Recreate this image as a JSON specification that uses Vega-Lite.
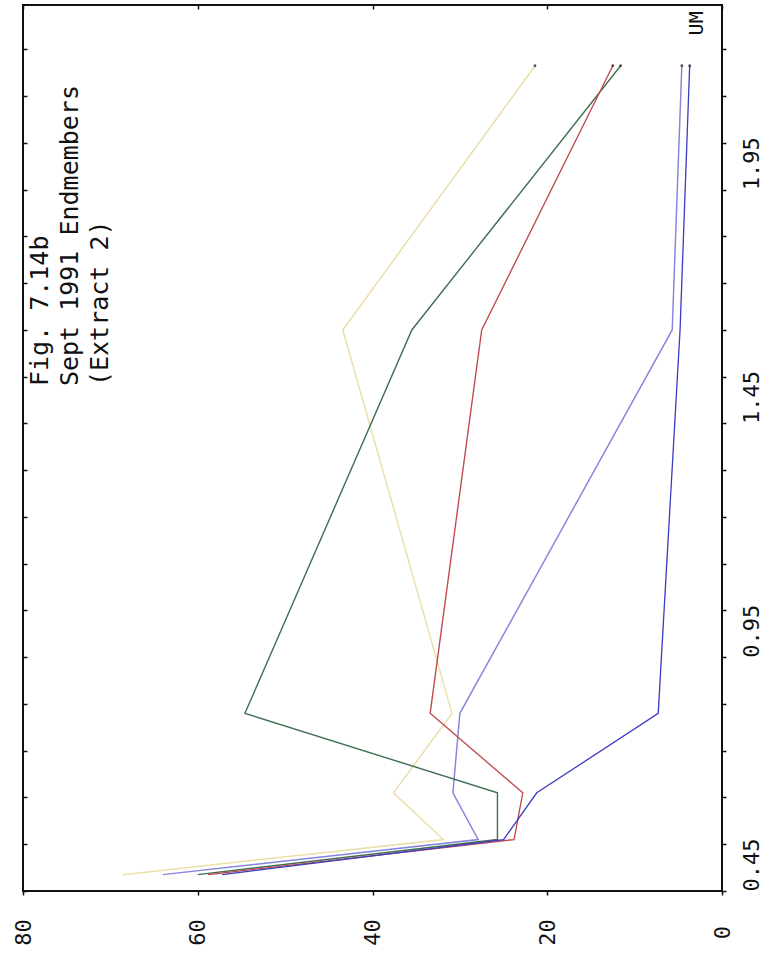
{
  "$schema": "https://vega.github.io/schema/vega-lite/v6.json",
  "autosize": {"type": "none"},
  "padding": {"left": 23, "top": 5, "right": 48, "bottom": 62},
  "width": 699,
  "height": 886,
  "background": "white",
  "config": {
    "view": {"stroke": "#111", "strokeWidth": 2},
    "font": "DejaVu Sans Mono",
    "axis": {"grid": false, "domain": false, "tickColor": "#111", "tickWidth": 1.5, "tickSize": 4, "labelFont": "DejaVu Sans Mono", "labelFontSize": 22, "labelColor": "#111"}
  },
  "data": {"values": [
    {"band": 0.485, "series": "yellow", "value": 68.6},
    {"band": 0.56, "series": "yellow", "value": 31.9},
    {"band": 0.66, "series": "yellow", "value": 37.6},
    {"band": 0.83, "series": "yellow", "value": 30.9},
    {"band": 1.65, "series": "yellow", "value": 43.4},
    {"band": 2.215, "series": "yellow", "value": 21.4},
    {"band": 0.485, "series": "purple", "value": 64.0},
    {"band": 0.56, "series": "purple", "value": 27.9},
    {"band": 0.66, "series": "purple", "value": 30.8},
    {"band": 0.83, "series": "purple", "value": 30.0},
    {"band": 1.65, "series": "purple", "value": 5.7},
    {"band": 2.215, "series": "purple", "value": 4.6},
    {"band": 0.485, "series": "green", "value": 60.0},
    {"band": 0.56, "series": "green", "value": 25.7},
    {"band": 0.66, "series": "green", "value": 25.7},
    {"band": 0.83, "series": "green", "value": 54.6},
    {"band": 1.65, "series": "green", "value": 35.5},
    {"band": 2.215, "series": "green", "value": 11.6},
    {"band": 0.485, "series": "red", "value": 58.8},
    {"band": 0.56, "series": "red", "value": 23.8},
    {"band": 0.66, "series": "red", "value": 22.8},
    {"band": 0.83, "series": "red", "value": 33.4},
    {"band": 1.65, "series": "red", "value": 27.5},
    {"band": 2.215, "series": "red", "value": 12.5},
    {"band": 0.485, "series": "blue", "value": 57.2},
    {"band": 0.56, "series": "blue", "value": 25.0},
    {"band": 0.66, "series": "blue", "value": 21.2},
    {"band": 0.83, "series": "blue", "value": 7.3},
    {"band": 1.65, "series": "blue", "value": 4.8},
    {"band": 2.215, "series": "blue", "value": 3.7}
  ]},
  "resolve": {"axis": {"x": "independent", "y": "independent"}},
  "layer": [
    {
      "mark": {"type": "line", "clip": true},
      "encoding": {
        "x": {"field": "value", "type": "quantitative", "scale": {"domain": [0, 80], "reverse": true, "nice": false, "zero": false},
              "axis": {"orient": "bottom", "values": [0, 20, 40, 60, 80], "title": null, "labelAngle": -90, "labelAlign": "center", "labelBaseline": "middle", "labelPadding": 37}},
        "y": {"field": "band", "type": "quantitative", "scale": {"domain": [0.45, 2.345], "nice": false, "zero": false},
              "axis": {"orient": "right", "values": [0.45, 0.55, 0.65, 0.75, 0.85, 0.95, 1.05, 1.15, 1.25, 1.35, 1.45, 1.55, 1.65, 1.75, 1.85, 1.95, 2.05, 2.15, 2.25], "title": null, "labelAngle": -90, "labelAlign": "left", "labelBaseline": "middle", "labelPadding": 25,
                       "labelExpr": "indexof(['0.45','0.95','1.45','1.95'], format(datum.value, '.2f')) >= 0 ? format(datum.value, '.2f') : ''"}},
        "detail": {"field": "series"},
        "order": {"field": "band"},
        "color": {"field": "series", "type": "nominal", "legend": null,
                  "scale": {"domain": ["yellow", "purple", "green", "red", "blue"], "range": ["#ebdfa8", "#8585dc", "#3f6e50", "#c0484e", "#3b3bc4"]}},
        "strokeWidth": {"field": "series", "type": "nominal", "legend": null,
                 "scale": {"domain": ["yellow", "purple", "green", "red", "blue"], "range": [1.5, 1.3, 1.6, 1.6, 2.3]}}
      }
    },
    {
      "mark": {"type": "point", "filled": true, "color": "#111", "size": 8},
      "transform": [{"filter": "datum.band > 2"}],
      "encoding": {
        "x": {"field": "value", "type": "quantitative", "axis": {"orient": "top", "values": [0, 20, 40, 60, 80], "labels": false, "title": null, "tickSize": -4}},
        "y": {"field": "band", "type": "quantitative",
              "axis": {"orient": "left", "values": [0.45, 0.55, 0.65, 0.75, 0.85, 0.95, 1.05, 1.15, 1.25, 1.35, 1.45, 1.55, 1.65, 1.75, 1.85, 1.95, 2.05, 2.15, 2.25], "labels": false, "title": null, "tickSize": -4}}
      }
    },
    {
      "data": {"values": [{"title": ["Fig. 7.14b", "Sept 1991 Endmembers", "(Extract 2)"]}]},
      "mark": {"type": "text", "angle": -90, "align": "left", "baseline": "top", "font": "DejaVu Sans Mono", "fontSize": 25, "lineHeight": 30, "color": "#111"},
      "encoding": {
        "text": {"field": "title"},
        "x": {"datum": 79.4, "type": "quantitative", "axis": null},
        "y": {"datum": 1.53, "type": "quantitative", "axis": null}
      }
    },
    {
      "data": {"values": [{"unit": "UM"}]},
      "mark": {"type": "text", "angle": -90, "align": "left", "baseline": "middle", "font": "DejaVu Sans Mono", "fontSize": 20, "color": "#111"},
      "encoding": {
        "text": {"field": "unit"},
        "x": {"datum": 2.9, "type": "quantitative", "axis": null},
        "y": {"datum": 2.28, "type": "quantitative", "axis": null}
      }
    }
  ]
}
